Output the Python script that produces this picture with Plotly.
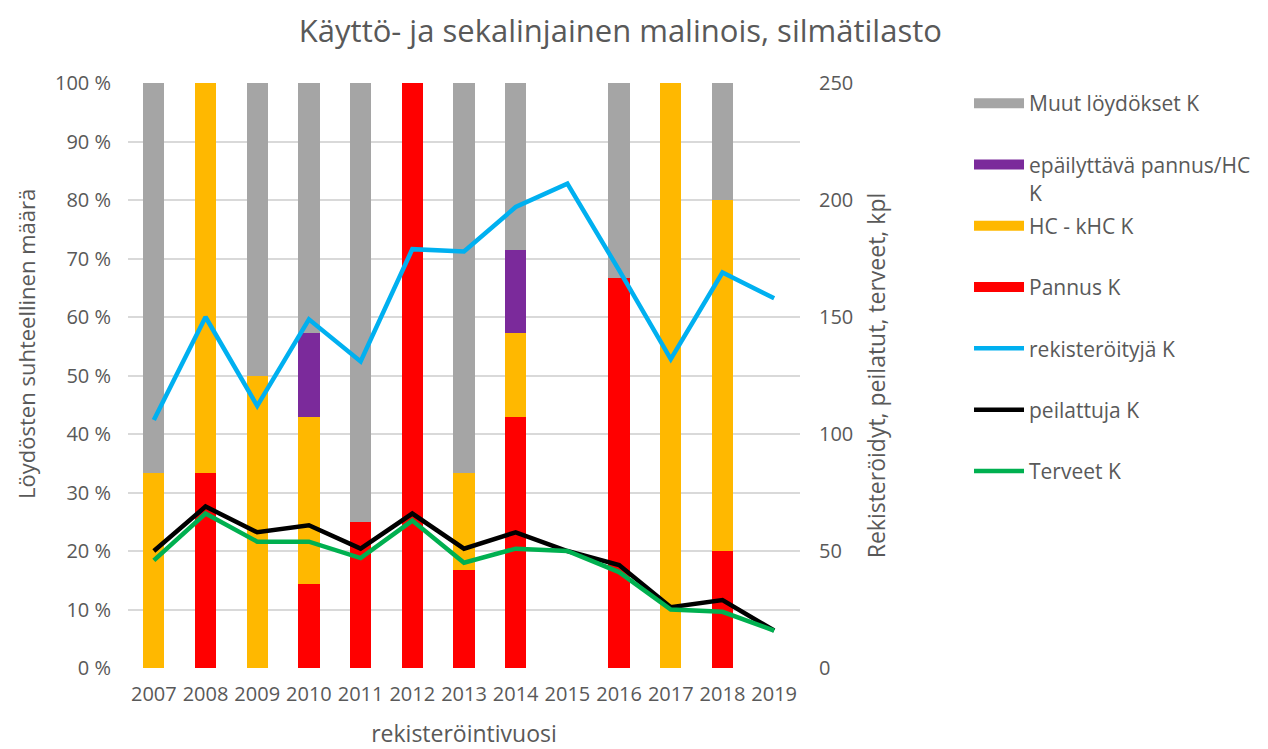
import plotly.graph_objects as go

years = ["2007", "2008", "2009", "2010", "2011", "2012", "2013", "2014", "2015", "2016", "2017", "2018", "2019"]

# stacked bar shares (%)
pannus = [0, 33.3, 0, 14.3, 25.0, 100.0, 16.7, 42.9, 0, 66.7, 0, 20.0, 0]
hc_khc = [33.3, 66.7, 50.0, 28.6, 0, 0, 16.7, 14.3, 0, 0, 100.0, 60.0, 0]
epaily = [0, 0, 0, 14.3, 0, 0, 0, 14.3, 0, 0, 0, 0, 0]
muut = [66.7, 0, 50.0, 42.9, 75.0, 0, 66.6, 28.5, 0, 33.3, 0, 20.0, 0]

# counts (right axis)
rekisteroityja = [106, 150, 112, 149, 131, 179, 178, 197, 207, 170, 132, 169, 158]
peilattuja = [50, 69, 58, 61, 51, 66, 51, 58, 50, 44, 26, 29, 16]
terveet = [46, 66, 54, 54, 47, 63, 45, 51, 50, 41, 25, 24, 16]

left_ticks = list(range(0, 101, 10))
left_labels = [f"{v} %" for v in left_ticks]
right_ticks = [0, 50, 100, 150, 200, 250]

txt = "#595959"
fnt = "Open Sans, Liberation Sans, sans-serif"

fig = go.Figure()

bar_series = [
    ("Pannus K", pannus, "#FF0000"),
    ("HC - kHC K", hc_khc, "#FFB800"),
    ("epäilyttävä pannus/HC K", epaily, "#7B2A9B"),
    ("Muut löydökset K", muut, "#A5A5A5"),
]
for name, vals, col in bar_series:
    fig.add_trace(go.Bar(x=years, y=vals, name=name, marker=dict(color=col, line=dict(width=0)),
                         showlegend=False, yaxis="y"))

line_series = [
    ("rekisteröityjä K", rekisteroityja, "#00B0F0"),
    ("peilattuja K", peilattuja, "#000000"),
    ("Terveet K", terveet, "#00B050"),
]
for name, vals, col in line_series:
    fig.add_trace(go.Scatter(x=years, y=vals, name=name, mode="lines",
                             line=dict(color=col, width=4.5), yaxis="y2", showlegend=False))

# legend entries (order as in reference)
legend_order = [
    ("Muut löydökset K", "#A5A5A5", 12),
    ("epäilyttävä pannus/HC", "#7B2A9B", 12),
    ("HC - kHC K", "#FFB800", 12),
    ("Pannus K", "#FF0000", 12),
    ("rekisteröityjä K", "#00B0F0", 4.5),
    ("peilattuja K", "#000000", 4.5),
    ("Terveet K", "#00B050", 4.5),
]
for i, (name, col, w) in enumerate(legend_order):
    fig.add_trace(go.Scatter(x=[None], y=[None], name=name, mode="lines",
                             line=dict(color=col, width=w), legendgroup=f"g{i}",
                             showlegend=True, hoverinfo="skip"))

fig.update_layout(
    width=1260, height=741,
    paper_bgcolor="white", plot_bgcolor="white",
    margin=dict(l=120, r=468, t=75, b=81, autoexpand=False),
    barmode="stack", bargap=0.59,
    font=dict(family=fnt, color=txt, size=20),
    title=dict(text="Käyttö- ja sekalinjainen malinois, silmätilasto", x=0.486, xanchor="center",
               y=0.969, yanchor="middle", font=dict(size=31, color=txt)),
    xaxis=dict(type="category", showgrid=False, showline=False, ticks="", tickangle=0,
               ticklabelstandoff=12,
               title=dict(text="rekisteröintivuosi", font=dict(size=23, color=txt), standoff=28),
               tickfont=dict(size=20, color=txt)),
    yaxis=dict(range=[0, 100], tickvals=left_ticks, ticktext=left_labels,
               showgrid=True, gridcolor="#D9D9D9", gridwidth=1.5, zeroline=False,
               ticklabelstandoff=16, tickfont=dict(size=20, color=txt)),
    yaxis2=dict(range=[0, 250], tickvals=right_ticks, overlaying="y", side="right",
                showgrid=False, zeroline=False, ticklabelstandoff=18,
                title=dict(text="Rekisteröidyt, peilatut, terveet, kpl", font=dict(size=23, color=txt), standoff=16),
                tickfont=dict(size=20, color=txt)),
    legend=dict(x=1.2515, y=1.0, xanchor="left", yanchor="top", tracegroupgap=31,
                font=dict(size=21, color=txt), itemwidth=50, traceorder="grouped"),
    annotations=[
        dict(text="Löydösten suhteellinen määrä", xref="paper", yref="paper",
             x=-0.1518, y=0.554, xanchor="center", yanchor="middle", textangle=-90,
             showarrow=False, font=dict(size=22, color=txt)),
        dict(text="K", xref="paper", yref="paper", x=1.3385, y=0.812,
             xanchor="left", yanchor="middle", showarrow=False,
             font=dict(size=21, color=txt)),
    ],
)

fig.write_html("out.html")
